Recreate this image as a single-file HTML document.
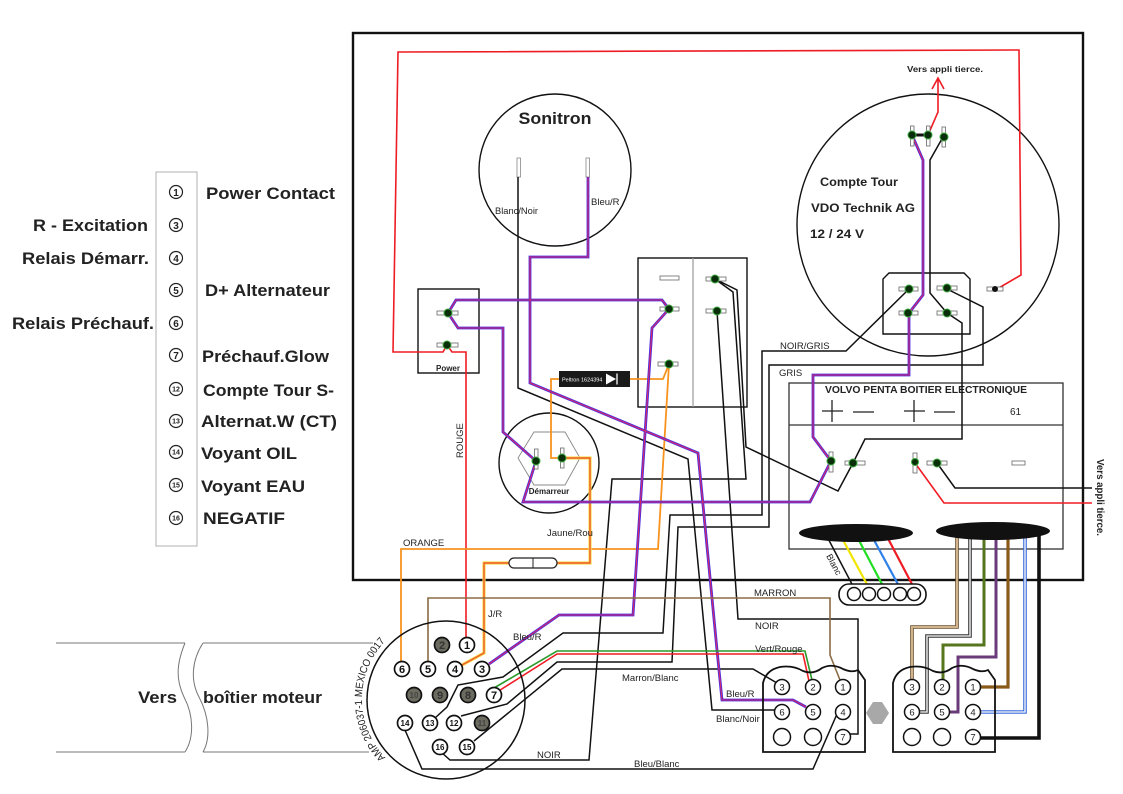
<!DOCTYPE html>
<html><head><meta charset="utf-8"><style>
html,body{margin:0;padding:0;background:#fff;}
svg{display:block;font-family:"Liberation Sans",Arial,sans-serif;}
</style></head><body>
<svg width="1123" height="794" viewBox="0 0 1123 794" xmlns="http://www.w3.org/2000/svg">
<rect width="1123" height="794" fill="#fff"/>
<defs>
<path id="p1" d="M588,177 V257 H530 V383 L698,453 L717,650 L722,700 H793 L806,707"/>
<path id="p2" d="M448,313 L456,300 H662 L669,309"/>
<path id="p3" d="M448,313 L458,328 H503 V432 L536,461"/>
<path id="p4" d="M536,461 L523,502 H810 L831,461 L813,437 V375 H909 V313 L923,295 V160 L912,135"/>
<path id="p5" d="M669,309 L652,328 L633,615 H559 L489,664"/>
<path id="amparc" d="M385.5,757.5 A84,84 0 0,1 389,637.5" fill="none"/>
</defs>

<!-- Legend -->
<rect x="156" y="172" width="41" height="374" fill="none" stroke="#b0b0b0" stroke-width="1"/>
<g fill="none" stroke="#222" stroke-width="1.2">
<circle cx="176" cy="192" r="6.5"/><circle cx="176" cy="225" r="6.5"/><circle cx="176" cy="258" r="6.5"/>
<circle cx="176" cy="290" r="6.5"/><circle cx="176" cy="323" r="6.5"/><circle cx="176" cy="355" r="6.5"/>
<circle cx="176" cy="389" r="6.5"/><circle cx="176" cy="421" r="6.5"/><circle cx="176" cy="452" r="6.5"/>
<circle cx="176" cy="485" r="6.5"/><circle cx="176" cy="518" r="6.5"/>
</g>
<g font-size="10" font-weight="bold" fill="#222" text-anchor="middle">
<text x="176" y="196">1</text><text x="176" y="229">3</text><text x="176" y="262">4</text>
<text x="176" y="294">5</text><text x="176" y="327">6</text><text x="176" y="359">7</text>
</g>
<g font-size="7" font-weight="bold" fill="#222" text-anchor="middle">
<text x="176" y="391.5">12</text><text x="176" y="423.5">13</text><text x="176" y="454.5">14</text>
<text x="176" y="487.5">15</text><text x="176" y="520.5">16</text>
</g>
<g font-size="17" font-weight="bold" fill="#222">
<text x="206" y="199" textLength="129" lengthAdjust="spacingAndGlyphs">Power Contact</text>
<text x="33" y="231" textLength="115" lengthAdjust="spacingAndGlyphs">R - Excitation</text>
<text x="22" y="264" textLength="127" lengthAdjust="spacingAndGlyphs">Relais Démarr.</text>
<text x="205" y="296" textLength="125" lengthAdjust="spacingAndGlyphs">D+ Alternateur</text>
<text x="12" y="329" textLength="142" lengthAdjust="spacingAndGlyphs">Relais Préchauf.</text>
<text x="202" y="362" textLength="127" lengthAdjust="spacingAndGlyphs">Préchauf.Glow</text>
<text x="203" y="396" textLength="131" lengthAdjust="spacingAndGlyphs">Compte Tour S-</text>
<text x="201" y="427" textLength="136" lengthAdjust="spacingAndGlyphs">Alternat.W (CT)</text>
<text x="201" y="459" textLength="96" lengthAdjust="spacingAndGlyphs">Voyant OIL</text>
<text x="201" y="492" textLength="104" lengthAdjust="spacingAndGlyphs">Voyant EAU</text>
<text x="203" y="524" textLength="82" lengthAdjust="spacingAndGlyphs">NEGATIF</text>
<text x="138" y="703" textLength="39" lengthAdjust="spacingAndGlyphs">Vers</text>
<text x="203" y="703" textLength="119" lengthAdjust="spacingAndGlyphs">boîtier moteur</text>
</g>

<!-- cable to engine -->
<g fill="none" stroke="#777" stroke-width="1">
<path d="M56,643 H185 M56,752 H185 M203,643 H373 M203,752 H369"/>
<path d="M185,643 C176,665 176,680 184,697 C194,716 194,738 185,752"/>
<path d="M203,643 C192,660 190,680 199,697 C209,716 211,738 203,752"/>
</g>

<!-- Main box -->
<rect x="353" y="33" width="730" height="547" fill="none" stroke="#111" stroke-width="2.4"/>

<!-- Sonitron -->
<circle cx="555" cy="170" r="76" fill="none" stroke="#111" stroke-width="1.4"/>
<text x="555" y="124" font-size="17" font-weight="bold" fill="#222" text-anchor="middle" textLength="73" lengthAdjust="spacingAndGlyphs">Sonitron</text>
<rect x="517" y="158" width="3.5" height="19" fill="#fff" stroke="#888" stroke-width="0.8"/>
<rect x="586" y="158" width="3.5" height="19" fill="#fff" stroke="#888" stroke-width="0.8"/>
<g font-size="9.5" fill="#222">
<text x="495" y="214" textLength="43" lengthAdjust="spacingAndGlyphs">Blanc/Noir</text>
<text x="591" y="205">Bleu/R</text>
</g>

<!-- Power box -->
<rect x="418" y="289" width="61" height="84" fill="none" stroke="#111" stroke-width="1.4"/>
<text x="448" y="371" font-size="8" font-weight="bold" fill="#222" text-anchor="middle">Power</text>

<!-- Switch box -->
<rect x="638" y="258" width="109" height="149" fill="none" stroke="#111" stroke-width="1.4"/>
<line x1="693" y1="258" x2="693" y2="407" stroke="#999" stroke-width="1.2"/>

<!-- Démarreur -->
<circle cx="549" cy="463" r="50" fill="none" stroke="#111" stroke-width="1.4"/>
<polygon points="534,432 565,432 580,458 565,485 534,485 518,458" fill="none" stroke="#888" stroke-width="0.9"/>
<text x="549" y="494" font-size="8" font-weight="bold" fill="#222" text-anchor="middle">Démarreur</text>

<!-- Compte tour -->
<circle cx="928" cy="225" r="131" fill="none" stroke="#111" stroke-width="1.4"/>
<g font-size="11.5" font-weight="bold" fill="#222">
<text x="820" y="186" textLength="78" lengthAdjust="spacingAndGlyphs">Compte Tour</text>
<text x="811" y="212" textLength="104" lengthAdjust="spacingAndGlyphs">VDO Technik AG</text>
<text x="810" y="238" textLength="54" lengthAdjust="spacingAndGlyphs">12 / 24 V</text>
</g>
<path d="M883,334 V279 L889,273 H964 L970,279 V334 Z" fill="none" stroke="#111" stroke-width="1.4"/>
<text x="907" y="72" font-size="8.5" font-weight="bold" fill="#222" textLength="76" lengthAdjust="spacingAndGlyphs">Vers appli tierce.</text>

<!-- Volvo box -->
<rect x="789" y="383" width="274" height="166" fill="none" stroke="#333" stroke-width="1.3"/>
<line x1="789" y1="425" x2="1063" y2="425" stroke="#333" stroke-width="1.2"/>
<text x="825" y="393" font-size="10" font-weight="bold" fill="#222" textLength="202" lengthAdjust="spacingAndGlyphs">VOLVO PENTA BOITIER ELECTRONIQUE</text>
<g stroke="#222" stroke-width="1.3">
<line x1="822" y1="411" x2="843" y2="411"/><line x1="832" y1="400" x2="832" y2="422"/>
<line x1="853" y1="412" x2="874" y2="412"/>
<line x1="904" y1="411" x2="925" y2="411"/><line x1="914" y1="400" x2="914" y2="422"/>
<line x1="934" y1="412" x2="955" y2="412"/>
</g>
<text x="1010" y="415" font-size="10" fill="#222">61</text>
<text transform="translate(1097,459) rotate(90)" font-size="10" font-weight="bold" fill="#222" textLength="77" lengthAdjust="spacingAndGlyphs">Vers appli tierce.</text>

<!-- Black wires -->
<g fill="none" stroke="#111" stroke-width="1.5">
<path d="M518,177 V388 L688,459 L712,710 H775"/>
<path d="M715,279 L737,290 L746,447 L838,491 L853,463 L865,439 H962 V323 L947,313"/>
<path d="M715,279 L733,292 L746,479 H612 L589,760 H450 L441,752"/>
<path d="M717,311 L738,619 H858 V734 H850"/>
<path d="M909,289 L846,351 H762 V515 H670 L663,633 H563 L503,677 L458,685 L447,707 L435,718"/>
<path d="M947,289 L983,307 V365 H769 V527 H678 L672,662 H557 L507,704 L461,716"/>
<path d="M777,683 L753,669 H562 L474,741"/>
<path d="M837,714 L813,769 H422 L405,730"/>
<path d="M937,463 L955,488 H1092"/>
<path d="M943,137 L930,160 V293 L947,313"/>
<path d="M822,527 L854,588"/>
</g>
<line x1="912" y1="135" x2="928" y2="135" stroke="#111" stroke-width="3"/>

<!-- Red wires -->
<g fill="none" stroke="#ee1c24" stroke-width="1.6">
<path d="M997,289 L1021,275 L1019,50 L398,52 L393,352 L443,352 L447,345"/>
<path d="M447,345 L452,352 L466,352 V638"/>
<path d="M928,135 L938,112 V79 M932,89 L938,78 L944,89"/>
<path d="M915,463 L944,503 H1092"/>
</g>

<!-- Orange -->
<g fill="none" stroke="#f7931e" stroke-width="1.8">
<path d="M630,379 H663 L669,364 L658,549 H401 V662"/>
<path d="M559,379 H551 V458 H562"/>
</g>
<!-- J/R -->
<g fill="none">
<path d="M562,458 H590 V563 H557 M509,563 H484 V653 L462,665" stroke="#f5dc50" stroke-width="3.2"/>
<path d="M562,458 H590 V563 H557 M509,563 H484 V653 L462,665" stroke="#f05a28" stroke-width="1.4"/>
</g>

<!-- Bicolor blue/red -->
<g fill="none" stroke="#4a2ee0" stroke-width="2.8">
<use href="#p1"/><use href="#p2"/><use href="#p3"/><use href="#p4"/><use href="#p5"/>
</g>
<g fill="none" stroke="#d8286a" stroke-width="1.1">
<use href="#p1"/><use href="#p2"/><use href="#p3"/><use href="#p4"/><use href="#p5"/>
</g>

<!-- Marron -->
<path d="M428,662 V598 H830 V655 L840,680" fill="none" stroke="#8b6b43" stroke-width="1.6"/>
<!-- Vert/Rouge -->
<path d="M494,688 L557,651 H805 L812,680" fill="none" stroke="#2a9a2a" stroke-width="1.6"/>
<path d="M497,692 L557,654 H803 L809,681" fill="none" stroke="#ee1c24" stroke-width="1.6"/>

<!-- 5-pin colored -->
<g fill="none" stroke-width="2.2">
<path d="M837,529 L869,588" stroke="#f2e500"/>
<path d="M853,529 L884,588" stroke="#22dd22"/>
<path d="M868,529 L900,588" stroke="#2f80e8"/>
<path d="M883,529 L914,588" stroke="#ee1c24"/>
</g>

<!-- right harness -->
<g fill="none">
<path d="M957,532 V627 H912 V680" stroke="#6a5030" stroke-width="3.6"/>
<path d="M957,532 V627 H912 V680" stroke="#d2b48c" stroke-width="2"/>
<path d="M970,532 V636 H927 V712 H919" stroke="#333" stroke-width="3.6"/>
<path d="M970,532 V636 H927 V712 H919" stroke="#e0e0e0" stroke-width="1.6"/>
<path d="M984,532 V645 H943 V680" stroke="#55751e" stroke-width="3"/>
<path d="M996,532 V657 H958 V712 H949" stroke="#6a3a7a" stroke-width="3"/>
<path d="M1008,532 V687 H980" stroke="#8a5a1a" stroke-width="3.2"/>
<path d="M1025,532 V712 H980" stroke="#3a6ad8" stroke-width="3.6"/>
<path d="M1025,532 V712 H980" stroke="#fff" stroke-width="1.3"/>
<path d="M1039,532 V738 H980" stroke="#111" stroke-width="3.6"/>
</g>

<!-- Ellipses -->
<ellipse cx="856" cy="533" rx="57" ry="9" fill="#111"/>
<ellipse cx="993" cy="531" rx="57" ry="9" fill="#111"/>
<text transform="translate(826,556) rotate(62)" font-size="9" fill="#222">Blanc</text>

<!-- 5-pin connector -->
<rect x="839" y="584" width="87" height="21" rx="10" fill="#fff" stroke="#111" stroke-width="1.6"/>
<g fill="#fff" stroke="#111" stroke-width="1.5">
<circle cx="854" cy="594" r="6.5"/><circle cx="869" cy="594" r="6.5"/><circle cx="884" cy="594" r="6.5"/><circle cx="900" cy="594" r="6.5"/><circle cx="914" cy="594" r="6.5"/>
</g>

<!-- Fuse -->
<rect x="509" y="558" width="48" height="10" rx="5" fill="#fff" stroke="#222" stroke-width="1.2"/>
<line x1="533" y1="558" x2="533" y2="568" stroke="#222" stroke-width="1"/>

<!-- Peltron -->
<rect x="559" y="371" width="71" height="16" fill="#1a1a1a"/>
<text x="562" y="381.5" font-size="5.5" fill="#fff">Peltron 1624394</text>
<polygon points="606,373.5 606,384.5 616,379" fill="#fff"/>
<line x1="617" y1="373.5" x2="617" y2="384.5" stroke="#fff" stroke-width="1.3"/>

<!-- Terminals -->
<g fill="#fff" stroke="#666" stroke-width="0.8">
<rect x="437" y="311" width="21" height="4"/><rect x="437" y="343" width="21" height="4"/>
<rect x="660" y="276" width="19" height="4"/><rect x="660" y="307" width="19" height="4"/><rect x="658" y="362" width="20" height="4"/>
<rect x="706" y="277" width="20" height="4"/><rect x="706" y="309" width="20" height="4"/>
<rect x="534.5" y="449" width="3.5" height="20"/><rect x="560.5" y="448" width="3.5" height="20"/>
<rect x="910.5" y="126" width="3.5" height="20"/><rect x="926.5" y="126" width="3.5" height="20"/><rect x="942" y="127" width="3.5" height="20"/>
<rect x="899" y="287" width="19" height="4"/><rect x="937" y="286" width="20" height="4"/>
<rect x="899" y="311" width="19" height="4"/><rect x="937" y="311" width="20" height="4"/>
<rect x="987" y="287" width="16" height="4"/>
<rect x="829" y="452" width="4" height="20"/><rect x="845" y="461" width="20" height="4"/>
<rect x="913" y="453" width="4" height="20"/><rect x="927" y="461" width="20" height="4"/>
<rect x="1012" y="461" width="13" height="4"/>
</g>
<g fill="#0a2e0a" stroke="#3aa83a" stroke-width="1">
<circle cx="448" cy="313" r="4"/><circle cx="447" cy="345" r="4"/>
<circle cx="669" cy="309" r="4"/><circle cx="669" cy="364" r="4"/><circle cx="715" cy="279" r="4"/><circle cx="717" cy="311" r="4"/>
<circle cx="536" cy="461" r="4"/><circle cx="562" cy="458" r="4"/>
<circle cx="912" cy="135" r="4"/><circle cx="928" cy="135" r="4"/><circle cx="944" cy="137" r="4"/>
<circle cx="909" cy="289" r="4"/><circle cx="947" cy="288" r="4"/><circle cx="908" cy="313" r="4"/><circle cx="947" cy="313" r="4"/>
<circle cx="831" cy="461" r="4"/><circle cx="853" cy="463" r="4"/><circle cx="915" cy="462" r="3.5"/><circle cx="937" cy="463" r="4"/>
</g>
<circle cx="995" cy="289" r="3" fill="#111"/>

<!-- Wire labels -->
<g font-size="9.5" fill="#222">
<text x="780" y="349">NOIR/GRIS</text>
<text x="779" y="376">GRIS</text>
<text x="403" y="546">ORANGE</text>
<text x="547" y="536">Jaune/Rou</text>
<text x="488" y="617">J/R</text>
<text x="513" y="640">Bleu/R</text>
<text x="754" y="596">MARRON</text>
<text x="755" y="629">NOIR</text>
<text x="755" y="652">Vert/Rouge</text>
<text x="622" y="681">Marron/Blanc</text>
<text x="726" y="697">Bleu/R</text>
<text x="716" y="722">Blanc/Noir</text>
<text x="634" y="767">Bleu/Blanc</text>
<text x="537" y="758">NOIR</text>
<text transform="translate(463,458) rotate(-90)">ROUGE</text>
</g>

<!-- AMP connector -->
<circle cx="446" cy="700" r="79" fill="none" stroke="#111" stroke-width="1.5"/>
<text font-size="10.5" fill="#222"><textPath href="#amparc" textLength="128" lengthAdjust="spacingAndGlyphs">AMP 206037-1 MEXICO 0017</textPath></text>
<g stroke="#111" stroke-width="1.7">
<circle cx="442" cy="645" r="7.5" fill="#6b6b60"/>
<circle cx="414" cy="695" r="7.5" fill="#6b6b60"/><circle cx="440" cy="695" r="7.5" fill="#6b6b60"/><circle cx="468" cy="695" r="7.5" fill="#6b6b60"/>
<circle cx="482" cy="723" r="7.5" fill="#6b6b60"/>
<circle cx="467" cy="645" r="7.5" fill="#fff"/>
<circle cx="402" cy="669" r="7.5" fill="#fff"/><circle cx="428" cy="669" r="7.5" fill="#fff"/><circle cx="455" cy="669" r="7.5" fill="#fff"/><circle cx="482" cy="669" r="7.5" fill="#fff"/>
<circle cx="494" cy="695" r="7.5" fill="#fff"/>
<circle cx="405" cy="723" r="7.5" fill="#fff"/><circle cx="430" cy="723" r="7.5" fill="#fff"/><circle cx="454" cy="723" r="7.5" fill="#fff"/>
<circle cx="440" cy="747" r="7.5" fill="#fff"/><circle cx="467" cy="747" r="7.5" fill="#fff"/>
</g>
<g font-size="11" font-weight="bold" fill="#111" text-anchor="middle">
<text x="442" y="649" fill="#333">2</text><text x="467" y="649">1</text>
<text x="402" y="673">6</text><text x="428" y="673">5</text><text x="455" y="673">4</text><text x="482" y="673">3</text>
<text x="494" y="699">7</text>
</g>
<g font-size="8" font-weight="bold" text-anchor="middle">
<text x="414" y="698" fill="#444">10</text><text x="440" y="699" fill="#333" font-size="11">9</text><text x="468" y="699" fill="#333" font-size="11">8</text>
<text x="482" y="726" fill="#444">11</text>
<text x="405" y="726" fill="#111">14</text><text x="430" y="726" fill="#111">13</text><text x="454" y="726" fill="#111">12</text>
<text x="440" y="750" fill="#111">16</text><text x="467" y="750" fill="#111">15</text>
</g>

<!-- Middle connector -->
<path d="M763,752 V683 Q766,670 780,667 Q793,665 803,671 Q813,675 822,668 Q832,663 843,669 Q852,673 858,670 L865,680 V752 Z" fill="none" stroke="#111" stroke-width="1.8"/>
<!-- Right connector -->
<path d="M893,752 V683 Q896,670 910,667 Q923,665 933,671 Q943,675 952,668 Q962,663 973,669 Q982,673 988,670 L995,680 V752 Z" fill="none" stroke="#111" stroke-width="1.8"/>
<g fill="#fff" stroke="#111" stroke-width="1.5">
<circle cx="782" cy="687" r="7.5"/><circle cx="813" cy="687" r="7.5"/><circle cx="843" cy="687" r="7.5"/>
<circle cx="782" cy="712" r="7.5"/><circle cx="813" cy="712" r="7.5"/><circle cx="843" cy="712" r="7.5"/>
<circle cx="782" cy="737" r="8.5"/><circle cx="813" cy="737" r="8.5"/><circle cx="843" cy="737" r="7.5"/>
<circle cx="912" cy="687" r="7.5"/><circle cx="942" cy="687" r="7.5"/><circle cx="973" cy="687" r="7.5"/>
<circle cx="912" cy="712" r="7.5"/><circle cx="942" cy="712" r="7.5"/><circle cx="973" cy="712" r="7.5"/>
<circle cx="912" cy="737" r="8.5"/><circle cx="942" cy="737" r="8.5"/><circle cx="973" cy="737" r="7.5"/>
</g>
<g font-size="9.5" fill="#222" text-anchor="middle">
<text x="782" y="690.5">3</text><text x="813" y="690.5">2</text><text x="843" y="690.5">1</text>
<text x="782" y="715.5">6</text><text x="813" y="715.5">5</text><text x="843" y="715.5">4</text>
<text x="843" y="740.5">7</text>
<text x="912" y="690.5">3</text><text x="942" y="690.5">2</text><text x="973" y="690.5">1</text>
<text x="912" y="715.5">6</text><text x="942" y="715.5">5</text><text x="973" y="715.5">4</text>
<text x="973" y="740.5">7</text>
</g>
<polygon points="866,713 873,702 882,702 889,713 882,724 873,724" fill="#a8a8a8"/>
</svg>
</body></html>
